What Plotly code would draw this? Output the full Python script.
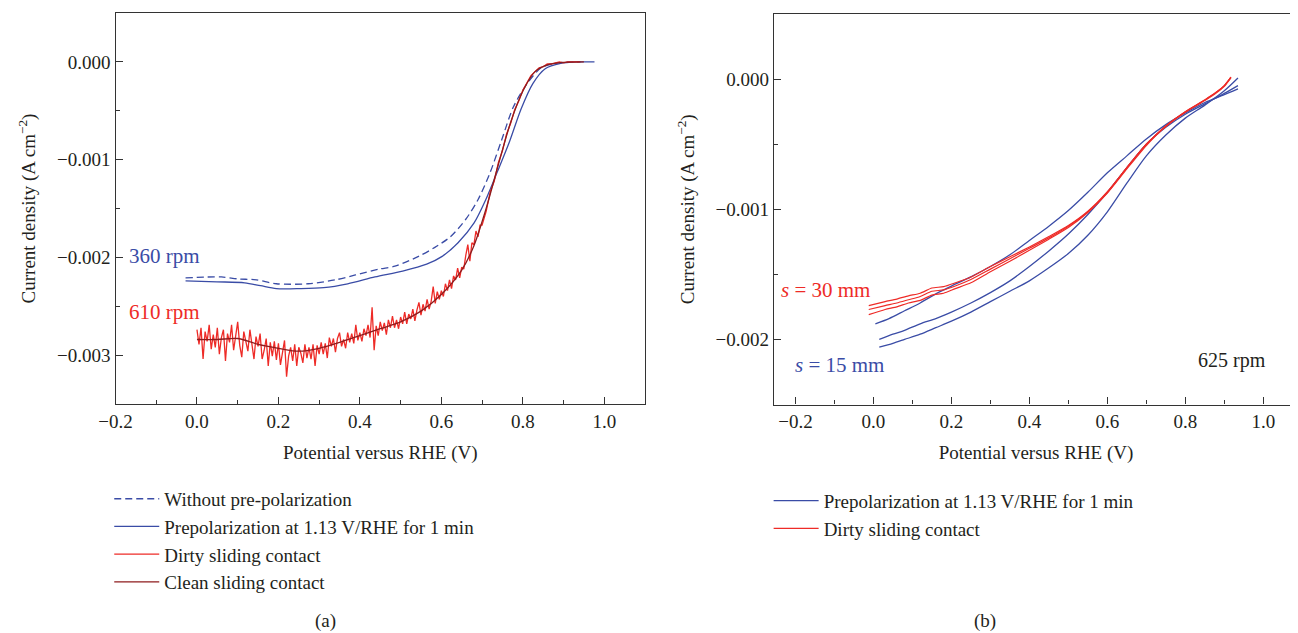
import plotly.graph_objects as go

# ---------------- Panel (a) data (current density in 10^-3 A cm^-2) ----------------
A_V_DASHED = [-0.028, 0.06, 0.10, 0.146, 0.195, 0.273, 0.34, 0.389, 0.447, 0.486, 0.544, 0.583,
              0.622, 0.66, 0.69, 0.719, 0.748, 0.777, 0.811, 0.845, 0.874, 0.913, 0.942]
A_J_DASHED = [-2.21, -2.20, -2.22, -2.23, -2.27, -2.27, -2.23, -2.18, -2.12, -2.09, -1.99, -1.90,
              -1.79, -1.61, -1.41, -1.14, -0.80, -0.46, -0.22, -0.06, -0.02, 0.0, 0.0]

A_V_PRE = [-0.028, 0.049, 0.117, 0.156, 0.195, 0.253, 0.311, 0.37, 0.437, 0.505, 0.564, 0.602,
           0.641, 0.68, 0.709, 0.738, 0.767, 0.796, 0.825, 0.855, 0.893, 0.932, 0.976]
A_J_PRE = [-2.24, -2.25, -2.26, -2.29, -2.32, -2.32, -2.31, -2.27, -2.20, -2.14, -2.07, -1.99,
           -1.85, -1.65, -1.41, -1.12, -0.82, -0.48, -0.22, -0.07, -0.015, 0.0, 0.0]

A_V_DIRTY = [0.000, 0.005, 0.010, 0.015, 0.020, 0.025, 0.030, 0.035, 0.040, 0.045,
             0.050, 0.055, 0.060, 0.065, 0.070, 0.075, 0.080, 0.085, 0.090, 0.095,
             0.100, 0.105, 0.110, 0.115, 0.120, 0.125, 0.130, 0.135, 0.140, 0.145,
             0.150, 0.155, 0.160, 0.165, 0.170, 0.175, 0.180, 0.185, 0.190, 0.195,
             0.200, 0.205, 0.210, 0.215, 0.220, 0.225, 0.230, 0.235, 0.240, 0.245,
             0.250, 0.255, 0.260, 0.265, 0.270, 0.275, 0.280, 0.285, 0.290, 0.295,
             0.300, 0.305, 0.310, 0.315, 0.320, 0.325, 0.330, 0.335, 0.340, 0.345,
             0.350, 0.355, 0.360, 0.365, 0.370, 0.375, 0.380, 0.385, 0.390, 0.395,
             0.400, 0.405, 0.410, 0.415, 0.420, 0.425, 0.430, 0.435, 0.440, 0.445,
             0.450, 0.455, 0.460, 0.465, 0.470, 0.475, 0.480, 0.485, 0.490, 0.495,
             0.500, 0.505, 0.510, 0.515, 0.520, 0.525, 0.530, 0.535, 0.540, 0.545,
             0.550, 0.555, 0.560, 0.565, 0.570, 0.575, 0.580, 0.585, 0.590, 0.595,
             0.600, 0.605, 0.610, 0.615, 0.620, 0.625, 0.630, 0.635, 0.640, 0.645,
             0.650, 0.655, 0.660, 0.665, 0.670, 0.675, 0.680, 0.685, 0.690, 0.695,
             0.700, 0.71, 0.72, 0.73, 0.74, 0.75, 0.76, 0.77, 0.78, 0.79,
             0.80, 0.81, 0.82, 0.83, 0.84, 0.85, 0.86, 0.87, 0.88, 0.89,
             0.90, 0.91, 0.92, 0.93, 0.94]
A_J_DIRTY = [-2.74, -2.89, -2.72, -3.04, -2.76, -2.86, -2.69, -2.94, -2.79, -2.92,
             -2.72, -2.99, -2.82, -2.74, -3.06, -2.78, -2.87, -2.69, -2.95, -2.80,
             -2.66, -2.90, -3.02, -2.76, -2.85, -2.96, -2.74, -2.90, -3.04, -2.81,
             -2.91, -2.78, -3.04, -2.95, -2.83, -3.11, -2.87, -3.01, -2.86, -3.05,
             -2.88, -3.10, -2.98, -2.85, -3.22, -3.01, -2.92, -3.06, -2.89, -3.11,
             -2.92, -2.98, -3.08, -2.89, -3.03, -2.92, -3.04, -2.89, -3.11, -2.90,
             -2.99, -2.87, -2.99, -2.88, -3.03, -2.82, -2.91, -2.83, -2.97, -2.83,
             -2.77, -2.91, -2.84, -2.93, -2.77, -2.87, -2.78, -2.88, -2.69, -2.85,
             -2.77, -2.86, -2.73, -2.80, -2.69, -2.82, -2.51, -2.95, -2.70, -2.80,
             -2.66, -2.75, -2.67, -2.79, -2.64, -2.72, -2.60, -2.72, -2.64, -2.73,
             -2.61, -2.68, -2.56, -2.68, -2.58, -2.63, -2.53, -2.65, -2.54, -2.46,
             -2.59, -2.48, -2.55, -2.43, -2.53, -2.45, -2.30, -2.47, -2.35, -2.43,
             -2.34, -2.40, -2.27, -2.34, -2.23, -2.32, -2.19, -2.23, -2.11, -2.21,
             -2.10, -2.12, -1.98, -1.87, -2.04, -1.85, -1.87, -1.73, -1.79, -1.67,
             -1.67, -1.53, -1.33, -1.22, -1.03, -0.91, -0.74, -0.63, -0.49, -0.40,
             -0.29, -0.22, -0.14, -0.10, -0.06, -0.05, -0.02, -0.02, -0.01, 0.0,
             -0.01, 0.0, 0.0, 0.0, 0.0]

A_V_CLEAN = [0.00, 0.05, 0.10, 0.15, 0.20, 0.25, 0.30, 0.35, 0.40, 0.45, 0.50, 0.55,
             0.60, 0.65, 0.68, 0.71, 0.74, 0.77, 0.80, 0.83, 0.86, 0.90, 0.95]
A_J_CLEAN = [-2.84, -2.84, -2.83, -2.89, -2.93, -2.96, -2.93, -2.87, -2.80, -2.73, -2.66, -2.55,
             -2.38, -2.13, -1.88, -1.50, -1.05, -0.62, -0.30, -0.10, -0.03, -0.005, 0.0]

# ---------------- Panel (b) data (current density in 10^-3 A cm^-2) ----------------
B_V_RED = [-0.012, 0.03, 0.06, 0.09, 0.12, 0.15, 0.18, 0.21, 0.25, 0.30, 0.35, 0.40,
           0.45, 0.50, 0.55, 0.60, 0.65, 0.70, 0.75, 0.80, 0.85, 0.88, 0.90, 0.917]
B_J_RED1 = [-1.74, -1.71, -1.69, -1.665, -1.645, -1.605, -1.595, -1.565, -1.52, -1.44, -1.365, -1.29,
            -1.21, -1.125, -1.015, -0.865, -0.68, -0.50, -0.36, -0.25, -0.16, -0.10, -0.05, 0.015]
B_J_RED2 = [-1.77, -1.74, -1.72, -1.695, -1.67, -1.63, -1.62, -1.59, -1.54, -1.46, -1.38, -1.30,
            -1.22, -1.13, -1.02, -0.87, -0.68, -0.50, -0.36, -0.25, -0.16, -0.10, -0.05, 0.015]
B_J_RED3 = [-1.81, -1.77, -1.75, -1.72, -1.70, -1.66, -1.645, -1.61, -1.565, -1.48, -1.40, -1.315,
            -1.23, -1.14, -1.025, -0.875, -0.69, -0.51, -0.365, -0.255, -0.165, -0.105, -0.055, 0.01]

B_V_BLUE = [0.005, 0.04, 0.08, 0.12, 0.16, 0.20, 0.25, 0.30, 0.35, 0.40, 0.45, 0.50, 0.55,
            0.60, 0.65, 0.70, 0.75, 0.80, 0.85, 0.90, 0.935]
B_J_BLUE1 = [-1.88, -1.84, -1.78, -1.72, -1.65, -1.59, -1.52, -1.44, -1.35, -1.24, -1.13, -1.01, -0.87,
             -0.72, -0.59, -0.46, -0.35, -0.26, -0.18, -0.12, -0.075]
B_V_BLUE23 = [0.015, 0.05, 0.08, 0.12, 0.16, 0.20, 0.25, 0.30, 0.35, 0.40, 0.45, 0.50, 0.55,
              0.60, 0.65, 0.70, 0.75, 0.80, 0.85, 0.90, 0.935]
B_J_BLUE2 = [-2.00, -1.96, -1.93, -1.88, -1.84, -1.79, -1.72, -1.64, -1.55, -1.44, -1.32, -1.19, -1.04,
             -0.87, -0.68, -0.50, -0.37, -0.27, -0.19, -0.11, -0.05]
B_J_BLUE3 = [-2.06, -2.03, -2.00, -1.96, -1.91, -1.86, -1.79, -1.71, -1.63, -1.55, -1.45, -1.34, -1.20,
             -1.02, -0.80, -0.59, -0.43, -0.30, -0.20, -0.09, 0.008]

# ---------------- ticks ----------------
X_TICKS = [-0.2, 0.0, 0.2, 0.4, 0.6, 0.8, 1.0]
X_TICKTEXT = ["\u22120.2", "0.0", "0.2", "0.4", "0.6", "0.8", "1.0"]
X_MINOR = [-0.1, 0.1, 0.3, 0.5, 0.7, 0.9]
A_Y_TICKS = [0.0, -0.001, -0.002, -0.003]
A_Y_TICKTEXT = ["0.000", "\u22120.001", "\u22120.002", "\u22120.003"]
A_Y_MINOR = [-0.0005, -0.0015, -0.0025]
B_Y_TICKS = [0.0, -0.001, -0.002]
B_Y_TICKTEXT = ["0.000", "\u22120.001", "\u22120.002"]
B_Y_MINOR = [-0.0005, -0.0015]

BLUE = "#3a4ca6"
RED = "#ee2b27"
DARKRED = "#8e1b1d"
INK = "#231f20"
AX = "#333333"
FONT = "Liberation Serif"
W, H = 1298, 633
OFF = 8  # page body margin

def mA(vals):
    return [v * 1e-3 for v in vals]

def px_x(p):
    return (p - OFF) / W

def px_y(p):
    return 1 - (p - OFF) / H

fig = go.Figure()

# Panel (a)
fig.add_trace(go.Scatter(x=A_V_DASHED, y=mA(A_J_DASHED), mode="lines", name="Without pre-polarization",
                         line=dict(color=BLUE, width=1.3, dash="7px,4px", shape="spline", smoothing=0.8),
                         xaxis="x", yaxis="y", legend="legend"))
fig.add_trace(go.Scatter(x=A_V_PRE, y=mA(A_J_PRE), mode="lines", name="Prepolarization at 1.13 V/RHE for 1 min",
                         line=dict(color=BLUE, width=1.3, shape="spline", smoothing=0.8),
                         xaxis="x", yaxis="y", legend="legend"))
fig.add_trace(go.Scatter(x=A_V_DIRTY, y=mA(A_J_DIRTY), mode="lines", name="Dirty sliding contact",
                         line=dict(color=RED, width=1.3),
                         xaxis="x", yaxis="y", legend="legend"))
fig.add_trace(go.Scatter(x=A_V_CLEAN, y=mA(A_J_CLEAN), mode="lines", name="Clean sliding contact",
                         line=dict(color=DARKRED, width=1.3, shape="spline", smoothing=0.8),
                         xaxis="x", yaxis="y", legend="legend"))

# Panel (b)
for i, (vv, jj) in enumerate([(B_V_BLUE, B_J_BLUE1), (B_V_BLUE23, B_J_BLUE2), (B_V_BLUE23, B_J_BLUE3)]):
    fig.add_trace(go.Scatter(x=vv, y=mA(jj), mode="lines", name="Prepolarization at 1.13 V/RHE for 1 min",
                             line=dict(color=BLUE, width=1.3, shape="spline", smoothing=0.8),
                             showlegend=(i == 0), xaxis="x2", yaxis="y2", legend="legend2"))
for i, jj in enumerate([B_J_RED1, B_J_RED2, B_J_RED3]):
    fig.add_trace(go.Scatter(x=B_V_RED, y=mA(jj), mode="lines", name="Dirty sliding contact",
                             line=dict(color=RED, width=1.2, shape="spline", smoothing=0.6),
                             showlegend=(i == 0), xaxis="x2", yaxis="y2", legend="legend2"))

axis_common = dict(showline=True, linecolor=AX, linewidth=1.3, showgrid=False, zeroline=False,
                   ticks="inside", ticklen=7, tickwidth=1.3, tickcolor=AX, automargin=False,
                   tickfont=dict(family=FONT, size=19, color=INK), tickmode="array")
minor_common = dict(ticks="inside", ticklen=4, tickwidth=1.3, tickcolor=AX)
title_font = dict(family=FONT, size=19, color=INK)

fig.update_layout(
    width=W, height=H,
    margin=dict(l=0, r=0, t=0, b=0, autoexpand=False),
    paper_bgcolor="white", plot_bgcolor="white",
    font=dict(family=FONT, size=18, color=INK),
    xaxis=dict(axis_common, domain=[px_x(115.5), px_x(645)], range=[-0.2, 1.1], anchor="y", mirror=True,
               tickvals=X_TICKS, ticktext=X_TICKTEXT, minor=dict(minor_common, tickvals=X_MINOR),
               title=dict(text="Potential versus RHE (V)", font=title_font, standoff=14)),
    yaxis=dict(axis_common, domain=[px_y(404), px_y(13)], range=[-0.0035, 0.0005], anchor="x", mirror=True,
               tickvals=A_Y_TICKS, ticktext=A_Y_TICKTEXT, minor=dict(minor_common, tickvals=A_Y_MINOR),
               title=dict(text="Current density (A cm<sup>\u22122</sup>)", font=title_font, standoff=16)),
    xaxis2=dict(axis_common, domain=[px_x(774), px_x(1298)], range=[-0.255, 1.089], anchor="y2", mirror=True,
                tickvals=X_TICKS, ticktext=X_TICKTEXT, minor=dict(minor_common, tickvals=X_MINOR),
                title=dict(text="Potential versus RHE (V)", font=title_font, standoff=14)),
    yaxis2=dict(axis_common, domain=[px_y(404.5), px_y(14)], range=[-0.0025, 0.0005], anchor="x2", mirror=False,
                tickvals=B_Y_TICKS, ticktext=B_Y_TICKTEXT, minor=dict(minor_common, tickvals=B_Y_MINOR),
                title=dict(text="Current density (A cm<sup>\u22122</sup>)", font=title_font, standoff=15)),
    legend=dict(x=0.078, y=0.2545, xanchor="left", yanchor="top", bgcolor="rgba(0,0,0,0)",
                font=dict(family=FONT, size=19, color=INK), tracegroupgap=0, itemwidth=45),
    legend2=dict(x=0.586, y=0.2515, xanchor="left", yanchor="top", bgcolor="rgba(0,0,0,0)",
                 font=dict(family=FONT, size=19, color=INK), tracegroupgap=0, itemwidth=45),
    showlegend=True,
)

ann_font = dict(family=FONT, size=21)
fig.add_annotation(x=-0.08, y=-0.00199, xref="x", yref="y", text="360 rpm", showarrow=False,
                   font=dict(ann_font, color=BLUE))
fig.add_annotation(x=-0.08, y=-0.00256, xref="x", yref="y", text="610 rpm", showarrow=False,
                   font=dict(ann_font, color=RED))
fig.add_annotation(x=-0.124, y=-0.00162, xref="x2", yref="y2", text="<i>s</i> = 30 mm", showarrow=False,
                   font=dict(ann_font, color=RED))
fig.add_annotation(x=-0.086, y=-0.00220, xref="x2", yref="y2", text="<i>s</i> = 15 mm", showarrow=False,
                   font=dict(ann_font, color=BLUE))
fig.add_annotation(x=0.92, y=-0.00216, xref="x2", yref="y2", text="625 rpm", showarrow=False,
                   font=dict(family=FONT, size=20, color=INK))
fig.add_annotation(x=px_x(325), y=px_y(621), xref="paper", yref="paper", text="(a)", showarrow=False,
                   xanchor="center", yanchor="middle", font=dict(family=FONT, size=19, color=INK))
fig.add_annotation(x=px_x(985), y=px_y(621), xref="paper", yref="paper", text="(b)", showarrow=False,
                   xanchor="center", yanchor="middle", font=dict(family=FONT, size=19, color=INK))

fig.write_html("out.html")
